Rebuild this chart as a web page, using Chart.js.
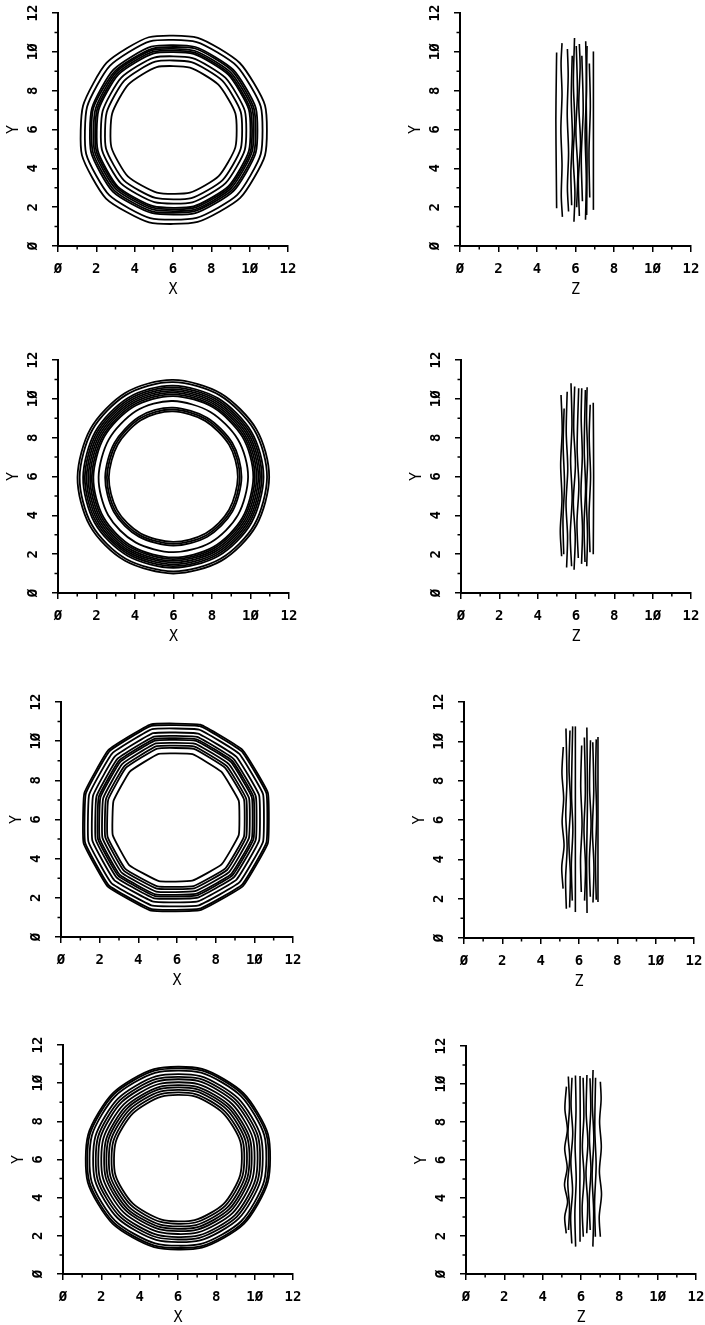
<!DOCTYPE html>
<html>
<head>
<meta charset="utf-8">
<script src="https://cdn.jsdelivr.net/npm/chart.js@4.4.1/dist/chart.umd.min.js"></script>
<style>
  html, body { margin: 0; padding: 0; background: #fff; width: 705px; height: 1325px; overflow: hidden; position: relative; }
  canvas { position: absolute; }
</style>
</head>
<body>
<script>
// ---- axis ticks ----
const tickValues = [0, 2, 4, 6, 8, 10, 12];
const tickLabels = ['Ø', '2', '4', '6', '8', '1Ø', '12'];
const minorTickValues = [1, 3, 5, 7, 9, 11];

// ---- X-Y cross sections: vertex angles (deg) and vertex radii of each closed ring ----
const ringAnglesDeg = [15, 45, 75, 105, 135, 165, 195, 225, 255, 285, 315, 345];

const xyCentre1 = [6.02, 5.96];
const xyRings1 = [
  [4.95, 4.90, 4.93, 4.96, 4.92, 4.88, 4.94, 4.97, 4.91, 4.89, 4.93, 4.95],
  [4.72, 4.68, 4.70, 4.74, 4.69, 4.66, 4.71, 4.73, 4.68, 4.67, 4.71, 4.72],
  [4.45, 4.41, 4.44, 4.46, 4.42, 4.40, 4.44, 4.47, 4.41, 4.42, 4.43, 4.45],
  [4.35, 4.33, 4.36, 4.34, 4.31, 4.33, 4.35, 4.37, 4.32, 4.31, 4.34, 4.36],
  [4.26, 4.22, 4.24, 4.27, 4.23, 4.21, 4.25, 4.26, 4.22, 4.23, 4.24, 4.25],
  [4.16, 4.13, 4.15, 4.18, 4.14, 4.12, 4.16, 4.17, 4.13, 4.14, 4.15, 4.17],
  [4.08, 4.05, 4.07, 4.09, 4.06, 4.04, 4.08, 4.10, 4.05, 4.06, 4.07, 4.08],
  [3.86, 3.83, 3.85, 3.88, 3.84, 3.82, 3.86, 3.87, 3.83, 3.84, 3.85, 3.86],
  [3.64, 3.61, 3.63, 3.66, 3.62, 3.60, 3.64, 3.65, 3.61, 3.62, 3.63, 3.64],
  [3.35, 3.32, 3.34, 3.37, 3.33, 3.31, 3.35, 3.36, 3.32, 3.33, 3.34, 3.35]
];

const xyCentre2 = [5.98, 5.97];
const xyRings2 = [
  [4.97, 4.94, 4.96, 4.99, 4.95, 4.93, 4.96, 4.98, 4.94, 4.95, 4.97, 4.96],
  [4.86, 4.83, 4.85, 4.88, 4.84, 4.82, 4.85, 4.87, 4.83, 4.84, 4.86, 4.85],
  [4.68, 4.65, 4.67, 4.70, 4.66, 4.64, 4.67, 4.69, 4.65, 4.66, 4.68, 4.67],
  [4.59, 4.56, 4.58, 4.61, 4.57, 4.55, 4.58, 4.60, 4.56, 4.57, 4.59, 4.58],
  [4.50, 4.47, 4.49, 4.52, 4.48, 4.46, 4.49, 4.51, 4.47, 4.48, 4.50, 4.49],
  [4.41, 4.38, 4.40, 4.43, 4.39, 4.37, 4.40, 4.42, 4.38, 4.39, 4.41, 4.40],
  [4.32, 4.29, 4.31, 4.34, 4.30, 4.28, 4.31, 4.33, 4.29, 4.30, 4.32, 4.31],
  [4.23, 4.20, 4.22, 4.25, 4.21, 4.19, 4.22, 4.24, 4.20, 4.21, 4.23, 4.22],
  [4.15, 4.12, 4.14, 4.16, 4.13, 4.11, 4.14, 4.15, 4.12, 4.13, 4.15, 4.14],
  [3.88, 3.85, 3.87, 3.92, 3.86, 3.84, 3.87, 3.89, 3.85, 3.86, 3.88, 3.87],
  [3.54, 3.51, 3.53, 3.58, 3.52, 3.50, 3.53, 3.55, 3.51, 3.52, 3.54, 3.53],
  [3.45, 3.42, 3.44, 3.48, 3.43, 3.41, 3.44, 3.46, 3.42, 3.43, 3.45, 3.44],
  [3.35, 3.32, 3.34, 3.38, 3.33, 3.31, 3.34, 3.36, 3.32, 3.33, 3.35, 3.34]
];

const xyCentre3 = [5.93, 6.08];
const xyRings3 = [
  [4.94, 4.90, 4.93, 4.95, 4.91, 4.89, 4.93, 4.96, 4.90, 4.88, 4.92, 4.94],
  [4.86, 4.82, 4.85, 4.87, 4.83, 4.81, 4.85, 4.88, 4.82, 4.80, 4.84, 4.86],
  [4.68, 4.64, 4.67, 4.69, 4.65, 4.63, 4.67, 4.70, 4.64, 4.62, 4.66, 4.68],
  [4.47, 4.43, 4.46, 4.48, 4.44, 4.42, 4.46, 4.49, 4.43, 4.41, 4.45, 4.47],
  [4.29, 4.25, 4.28, 4.30, 4.26, 4.24, 4.28, 4.31, 4.25, 4.23, 4.27, 4.29],
  [4.17, 4.13, 4.16, 4.18, 4.14, 4.12, 4.16, 4.19, 4.13, 4.11, 4.15, 4.17],
  [4.08, 4.04, 4.07, 4.09, 4.05, 4.03, 4.07, 4.10, 4.04, 4.02, 4.06, 4.08],
  [3.93, 3.89, 3.92, 3.94, 3.90, 3.88, 3.92, 3.95, 3.89, 3.87, 3.91, 3.93],
  [3.78, 3.74, 3.77, 3.79, 3.75, 3.73, 3.77, 3.80, 3.74, 3.72, 3.76, 3.78],
  [3.66, 3.62, 3.65, 3.67, 3.63, 3.61, 3.65, 3.68, 3.62, 3.60, 3.64, 3.66],
  [3.38, 3.34, 3.37, 3.39, 3.35, 3.33, 3.37, 3.40, 3.34, 3.32, 3.36, 3.38]
];

const xyCentre4 = [6.00, 6.06];
const xyRings4 = [
  [4.86, 4.83, 4.85, 4.84, 4.82, 4.85, 4.87, 4.83, 4.81, 4.84, 4.86, 4.85],
  [4.78, 4.75, 4.77, 4.76, 4.74, 4.77, 4.79, 4.75, 4.73, 4.76, 4.78, 4.77],
  [4.66, 4.63, 4.65, 4.64, 4.62, 4.65, 4.67, 4.63, 4.61, 4.64, 4.66, 4.65],
  [4.47, 4.44, 4.46, 4.45, 4.43, 4.46, 4.48, 4.44, 4.42, 4.45, 4.47, 4.46],
  [4.33, 4.30, 4.32, 4.31, 4.29, 4.32, 4.34, 4.30, 4.28, 4.31, 4.33, 4.32],
  [4.20, 4.17, 4.19, 4.18, 4.16, 4.19, 4.21, 4.17, 4.15, 4.18, 4.20, 4.19],
  [4.04, 4.01, 4.03, 4.02, 4.00, 4.03, 4.05, 4.01, 3.99, 4.02, 4.04, 4.03],
  [3.89, 3.86, 3.88, 3.87, 3.85, 3.88, 3.90, 3.86, 3.84, 3.87, 3.89, 3.88],
  [3.77, 3.74, 3.76, 3.75, 3.73, 3.76, 3.78, 3.74, 3.72, 3.75, 3.77, 3.76],
  [3.64, 3.61, 3.63, 3.62, 3.60, 3.63, 3.65, 3.61, 3.59, 3.62, 3.64, 3.63],
  [3.50, 3.47, 3.49, 3.48, 3.46, 3.49, 3.51, 3.47, 3.45, 3.48, 3.50, 3.49],
  [3.37, 3.34, 3.36, 3.35, 3.33, 3.36, 3.38, 3.34, 3.32, 3.35, 3.37, 3.36]
];

// ---- Z-Y side views: each trace is a list of [z, y] vertices, bottom to top ----
const zyTraces1 = [
  [[5.02, 1.94], [5.00, 4.00], [4.98, 6.50], [5.00, 8.50], [5.02, 9.97]],
  [[5.32, 1.50], [5.26, 2.60], [5.30, 4.20], [5.24, 6.00], [5.30, 7.80], [5.25, 9.40], [5.30, 10.45]],
  [[5.64, 1.78], [5.58, 3.00], [5.64, 4.80], [5.57, 6.80], [5.62, 8.80], [5.58, 10.15]],
  [[5.80, 2.10], [5.76, 3.80], [5.84, 5.60], [5.78, 7.60], [5.83, 9.80]],
  [[5.92, 1.25], [5.97, 2.80], [5.88, 4.60], [5.96, 6.40], [5.89, 8.40], [5.95, 10.71]],
  [[6.06, 2.00], [6.12, 3.90], [6.02, 5.90], [6.10, 7.90], [6.04, 10.30]],
  [[6.20, 1.55], [6.15, 3.40], [6.26, 5.30], [6.17, 7.30], [6.24, 9.20], [6.20, 10.40]],
  [[6.36, 2.30], [6.30, 4.60], [6.40, 7.00], [6.33, 9.80]],
  [[6.52, 1.35], [6.56, 3.50], [6.50, 5.80], [6.57, 8.00], [6.53, 10.55]],
  [[6.58, 1.60], [6.60, 4.50], [6.56, 7.50], [6.60, 10.30]],
  [[6.74, 2.50], [6.70, 4.80], [6.77, 7.20], [6.72, 9.40]],
  [[6.93, 1.86], [6.93, 6.00], [6.93, 10.02]]
];

const zyTraces2 = [
  [[5.25, 1.89], [5.18, 3.20], [5.27, 4.80], [5.20, 6.60], [5.28, 8.40], [5.22, 10.20]],
  [[5.36, 2.00], [5.32, 3.80], [5.40, 5.60], [5.33, 7.60], [5.38, 9.50]],
  [[5.51, 1.31], [5.56, 2.90], [5.48, 4.60], [5.57, 6.40], [5.49, 8.30], [5.54, 10.37]],
  [[5.77, 1.38], [5.70, 3.00], [5.80, 4.90], [5.72, 6.80], [5.79, 8.70], [5.74, 10.80]],
  [[5.90, 1.20], [5.96, 2.90], [5.86, 4.70], [5.97, 6.60], [5.88, 8.50], [5.93, 10.63]],
  [[6.12, 1.80], [6.05, 3.60], [6.15, 5.50], [6.06, 7.40], [6.14, 10.55]],
  [[6.29, 1.50], [6.34, 3.30], [6.26, 5.20], [6.33, 7.10], [6.27, 9.00], [6.30, 10.55]],
  [[6.47, 1.60], [6.42, 3.50], [6.50, 5.40], [6.43, 7.40], [6.49, 10.45]],
  [[6.56, 1.38], [6.60, 3.00], [6.54, 5.00], [6.61, 7.00], [6.55, 9.00], [6.58, 10.60]],
  [[6.73, 2.10], [6.68, 4.00], [6.76, 6.00], [6.69, 8.00], [6.74, 9.70]],
  [[6.90, 2.00], [6.92, 6.00], [6.90, 9.80]]
];

const zyTraces3 = [
  [[5.17, 2.51], [5.10, 3.60], [5.22, 4.70], [5.12, 5.90], [5.20, 7.10], [5.11, 8.40], [5.18, 9.71]],
  [[5.34, 1.49], [5.30, 3.00], [5.38, 4.60], [5.31, 6.30], [5.37, 8.00], [5.32, 10.65]],
  [[5.51, 1.55], [5.55, 3.20], [5.47, 5.00], [5.56, 6.80], [5.48, 8.60], [5.53, 10.55]],
  [[5.65, 1.90], [5.60, 3.70], [5.68, 5.50], [5.61, 7.30], [5.67, 10.76]],
  [[5.81, 1.32], [5.81, 6.00], [5.81, 10.76]],
  [[6.12, 2.34], [6.08, 4.00], [6.16, 5.80], [6.09, 7.70], [6.14, 9.79]],
  [[6.29, 1.90], [6.34, 3.60], [6.26, 5.50], [6.33, 7.40], [6.28, 10.20]],
  [[6.42, 1.27], [6.40, 4.00], [6.44, 7.00], [6.41, 10.70]],
  [[6.59, 2.10], [6.54, 3.90], [6.63, 5.80], [6.55, 7.70], [6.60, 10.05]],
  [[6.73, 1.80], [6.78, 3.60], [6.70, 5.50], [6.77, 7.50], [6.72, 9.95]],
  [[6.90, 1.95], [6.86, 4.00], [6.92, 6.20], [6.87, 8.30], [6.90, 10.10]],
  [[6.99, 1.83], [6.99, 6.00], [6.99, 10.22]]
];

const zyTraces4 = [
  [[5.23, 2.14], [5.15, 3.00], [5.30, 3.80], [5.14, 4.70], [5.28, 5.60], [5.15, 6.60], [5.29, 7.60], [5.16, 8.70], [5.24, 9.86]],
  [[5.35, 2.32], [5.40, 3.50], [5.31, 4.80], [5.41, 6.10], [5.32, 7.40], [5.40, 8.80], [5.34, 10.39]],
  [[5.52, 1.61], [5.46, 3.00], [5.56, 4.40], [5.47, 5.90], [5.57, 7.40], [5.48, 8.90], [5.53, 10.33]],
  [[5.72, 1.44], [5.68, 3.20], [5.75, 5.00], [5.69, 6.80], [5.74, 8.60], [5.71, 10.45]],
  [[5.95, 1.70], [5.94, 4.50], [5.96, 7.50], [5.95, 10.42]],
  [[6.12, 1.96], [6.06, 3.50], [6.16, 5.10], [6.07, 6.70], [6.15, 8.30], [6.11, 10.33]],
  [[6.30, 2.14], [6.35, 3.70], [6.26, 5.30], [6.36, 6.90], [6.27, 8.50], [6.31, 10.47]],
  [[6.48, 2.32], [6.43, 3.90], [6.52, 5.50], [6.44, 7.10], [6.51, 8.70], [6.47, 10.30]],
  [[6.62, 1.44], [6.66, 3.30], [6.58, 5.20], [6.67, 7.10], [6.59, 9.00], [6.63, 10.74]],
  [[6.75, 1.96], [6.71, 3.80], [6.79, 5.70], [6.72, 7.60], [6.76, 10.33]],
  [[7.01, 1.96], [6.95, 3.00], [7.07, 4.20], [6.96, 5.40], [7.06, 6.70], [6.97, 8.00], [7.05, 9.20], [7.01, 10.12]]
];

// ---- panel placement on the page (pixel positions of the axis ends) ----
const AXIS_W = 56, AXIS_H = 56, PAD_T = 20, PAD_R = 20;
const panelFrames = {
  xy1: { x0: 58, x12: 288, y12: 13, y0: 246 },
  zy1: { x0: 460, x12: 691, y12: 13, y0: 246 },
  xy2: { x0: 58, x12: 289, y12: 360, y0: 593 },
  zy2: { x0: 461, x12: 691, y12: 360, y0: 593 },
  xy3: { x0: 61, x12: 293, y12: 702, y0: 937 },
  zy3: { x0: 464, x12: 694, y12: 702, y0: 938 },
  xy4: { x0: 63, x12: 293, y12: 1045, y0: 1274 },
  zy4: { x0: 466, x12: 696, y12: 1046, y0: 1274 }
};

const tickFont = { family: 'DejaVu Sans Mono', size: 14, weight: 'bold' };
const titleFont = { family: 'DejaVu Sans Mono', size: 15, weight: 'normal' };
const LINE_W = 1.8;

// Closed ring: the list is wrapped with one extra vertex on each side so the
// smoothed curve has proper neighbours at the seam; the two wrap segments are hidden.
function ringPoints(centre, radii) {
  const pts = radii.map((r, i) => {
    const a = ringAnglesDeg[i] * Math.PI / 180;
    return { x: centre[0] + r * Math.cos(a), y: centre[1] + r * Math.sin(a) };
  });
  const n = pts.length;
  return [pts[n - 1], ...pts, pts[0], pts[1]];
}

function ringDataset(points) {
  const last = points.length - 2;
  return {
    data: points, showLine: true, borderColor: '#000', borderWidth: LINE_W, pointRadius: 0, fill: false,
    segment: {
      borderColor: (ctx) => (ctx.p0DataIndex === 0 || ctx.p0DataIndex === last) ? 'rgba(0,0,0,0)' : '#000'
    }
  };
}

function traceDataset(points) {
  return { data: points, showLine: true, borderColor: '#000', borderWidth: 1.6, pointRadius: 0, fill: false };
}

// short ticks at the odd values, drawn outward from both axes
const minorTicks = {
  id: 'minorTicks',
  afterDraw(chart) {
    const { ctx, chartArea, scales } = chart;
    ctx.save();
    ctx.strokeStyle = '#000';
    ctx.lineWidth = 1.5;
    ctx.beginPath();
    for (const v of minorTickValues) {
      const px = scales.x.getPixelForValue(v);
      ctx.moveTo(px, chartArea.bottom);
      ctx.lineTo(px, chartArea.bottom + 3.5);
      const py = scales.y.getPixelForValue(v);
      ctx.moveTo(chartArea.left, py);
      ctx.lineTo(chartArea.left - 3.5, py);
    }
    ctx.stroke();
    ctx.restore();
  }
};

function axisOptions(isX, title) {
  return {
    type: 'linear',
    position: isX ? 'bottom' : 'left',
    min: 0, max: 12,
    afterFit(scale) { if (isX) scale.height = AXIS_H; else scale.width = AXIS_W; },
    ticks: {
      stepSize: 2,
      autoSkip: false,
      color: '#000',
      font: tickFont,
      padding: isX ? 8.5 : 10,
      minRotation: isX ? 0 : 90,
      maxRotation: isX ? 0 : 90,
      crossAlign: isX ? 'near' : 'center',
      callback: (value) => { const i = tickValues.indexOf(value); return i < 0 ? '' : tickLabels[i]; }
    },
    grid: { drawOnChartArea: false, drawTicks: true, tickLength: 6, lineWidth: 1.5, color: '#000' },
    border: { display: true, width: 2, color: '#000' },
    title: {
      display: true, text: title, color: '#000', font: titleFont,
      padding: isX ? { top: 0, bottom: 3 } : { top: 3, bottom: 0 }
    }
  };
}

function makePanel(frame, datasets, xTitle, tension) {
  const W = frame.x12 - frame.x0 + AXIS_W + PAD_R;
  const H = frame.y0 - frame.y12 + PAD_T + AXIS_H;
  const c = document.createElement('canvas');
  c.width = W; c.height = H;
  c.style.width = W + 'px'; c.style.height = H + 'px';
  c.style.left = (frame.x0 - AXIS_W) + 'px';
  c.style.top = (frame.y12 - PAD_T) + 'px';
  document.body.appendChild(c);
  new Chart(c, {
    type: 'scatter',
    data: { datasets },
    options: {
      responsive: false,
      animation: false,
      events: [],
      layout: { padding: { top: PAD_T, right: PAD_R, left: 0, bottom: 0 } },
      elements: { line: { tension: tension, capBezierPoints: false }, point: { radius: 0 } },
      plugins: { legend: { display: false }, tooltip: { enabled: false } },
      scales: { x: axisOptions(true, xTitle), y: axisOptions(false, 'Y') }
    },
    plugins: [minorTicks]
  });
}

makePanel(panelFrames.xy1, xyRings1.map(r => ringDataset(ringPoints(xyCentre1, r))), 'X', 0.2);
makePanel(panelFrames.xy2, xyRings2.map(r => ringDataset(ringPoints(xyCentre2, r))), 'X', 0.4);
makePanel(panelFrames.xy3, xyRings3.map(r => ringDataset(ringPoints(xyCentre3, r))), 'X', 0.1);
makePanel(panelFrames.xy4, xyRings4.map(r => ringDataset(ringPoints(xyCentre4, r))), 'X', 0.25);

const toPoints = (trace) => trace.map(([z, y]) => ({ x: z, y }));
makePanel(panelFrames.zy1, zyTraces1.map(t => traceDataset(toPoints(t))), 'Z', 0.3);
makePanel(panelFrames.zy2, zyTraces2.map(t => traceDataset(toPoints(t))), 'Z', 0.3);
makePanel(panelFrames.zy3, zyTraces3.map(t => traceDataset(toPoints(t))), 'Z', 0.3);
makePanel(panelFrames.zy4, zyTraces4.map(t => traceDataset(toPoints(t))), 'Z', 0.3);
</script>
</body>
</html>
